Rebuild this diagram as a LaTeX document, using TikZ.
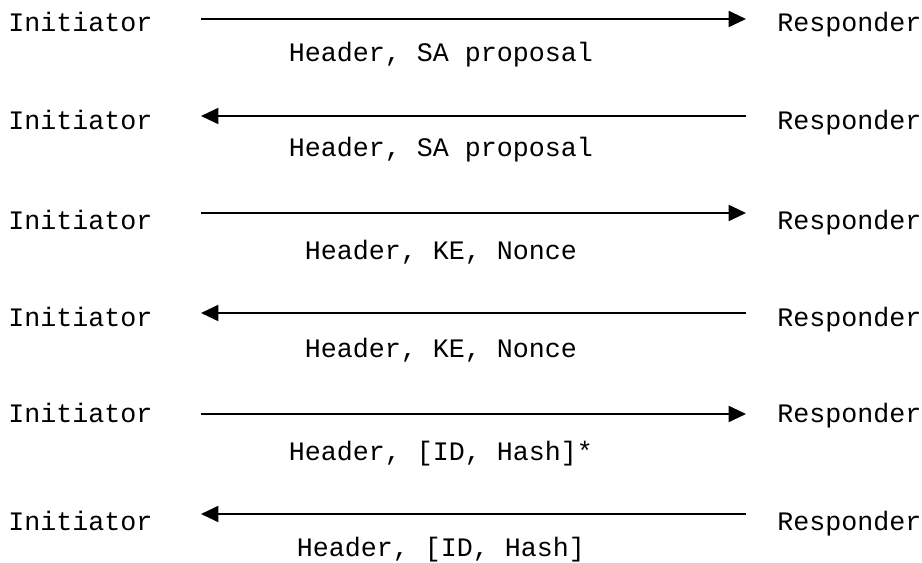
\documentclass[tikz,border=0pt]{standalone}
\usepackage{fontspec}
\setmonofont{Liberation Mono}
\usepackage{tikz}
\usetikzlibrary{arrows.meta}

\begin{document}
\begin{tikzpicture}[x=0.75pt,y=-0.75pt,
        party/.style={inner sep=0pt,anchor=base west,font=\ttfamily\fontsize{20}{24}\selectfont},
        payload/.style={inner sep=0pt,anchor=base,font=\ttfamily\fontsize{20}{24}\selectfont},
        msg/.style={line width=1.4pt,-{Triangle[length=13pt,width=12pt]}}]

       \useasboundingbox (0,0) rectangle (922,563);

       \node[party] (i1) at (8,32) {Initiator};
       \node[party] (i2) at (8,130) {Initiator};
       \node[party] (i3) at (8,230) {Initiator};
       \node[party] (i4) at (8,326) {Initiator};
       \node[party] (i5) at (8,422) {Initiator};
       \node[party] (i6) at (8,530) {Initiator};

       \node[party] (r1) at (777,32) {Responder};
       \node[party] (r2) at (777,130) {Responder};
       \node[party] (r3) at (777,230) {Responder};
       \node[party] (r4) at (777,326) {Responder};
       \node[party] (r5) at (777,422) {Responder};
       \node[party] (r6) at (777,530) {Responder};

       \coordinate (a1) at (201,19);  \coordinate (b1) at (746,19);
       \coordinate (a2) at (201,116); \coordinate (b2) at (746,116);
       \coordinate (a3) at (201,213); \coordinate (b3) at (746,213);
       \coordinate (a4) at (201,313); \coordinate (b4) at (746,313);
       \coordinate (a5) at (201,414); \coordinate (b5) at (746,414);
       \coordinate (a6) at (201,514); \coordinate (b6) at (746,514);

       \draw[msg] (a1) -- (b1);
       \draw[msg] (b2) -- (a2);
       \draw[msg] (a3) -- (b3);
       \draw[msg] (b4) -- (a4);
       \draw[msg] (a5) -- (b5);
       \draw[msg] (b6) -- (a6);

       \node[payload] (m1) at (441,62) {Header, SA proposal};
       \node[payload] (m2) at (441,157) {Header, SA proposal};
       \node[payload] (m3) at (441,260) {Header, KE, Nonce};
       \node[payload] (m4) at (441,358) {Header, KE, Nonce};
       \node[payload] (m5) at (441,460) {Header, [ID, Hash]*};
       \node[payload] (m6) at (441,556) {Header, [ID, Hash]};

    \end{tikzpicture}
\end{document}
